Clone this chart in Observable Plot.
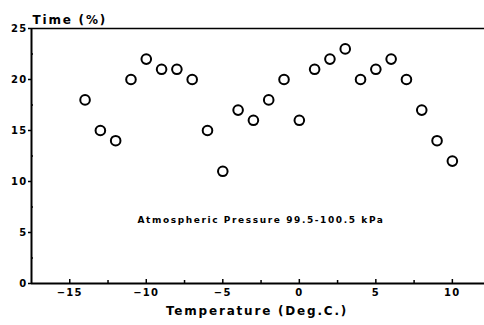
<!DOCTYPE html>
<html>
<head>
<meta charset="utf-8">
<script src="https://cdn.jsdelivr.net/npm/d3@7"></script>
<script src="https://cdn.jsdelivr.net/npm/@observablehq/plot@0.6"></script>
<style>
  html, body { margin: 0; padding: 0; background: #fff; }
  svg { display: block; }
</style>
</head>
<body>
<div id="chart"></div>
<script>
const temperature = [-14, -13, -12, -11, -10, -9, -8, -7, -6, -5, -4, -3, -2, -1, 0, 1, 2, 3, 4, 5, 6, 7, 8, 9, 10];
const timePct =     [ 18,  15,  14,  20,  22,  21,  21,  20,  15,  11,  17,  16,  18,  20, 16, 21, 22, 23, 20, 21, 22, 20, 17, 14, 12];
const xTicks = [-15, -10, -5, 0, 5, 10];
const xMinor = [-12.5, -7.5, -2.5, 2.5, 7.5];
const yTicks = [0, 5, 10, 15, 20, 25];
const yMinor = [2.5, 7.5, 12.5, 17.5, 22.5];
const xDomain = [-17.5, 12.1];
const yDomain = [0, 25];
const xTitle = "Temperature (Deg.C.)";
const yTitle = "Time (%)";
const note = "Atmospheric Pressure 99.5-100.5 kPa";

const data = temperature.map((t, i) => ({t, v: timePct[i]}));
const font = "'DejaVu Sans', sans-serif";

const chart = Plot.plot({
  width: 484,
  height: 325,
  marginLeft: 31,
  marginRight: 0,
  marginTop: 28,
  marginBottom: 42,
  style: {fontFamily: font, color: "#000", background: "#fff"},
  x: {domain: xDomain},
  y: {domain: yDomain},
  marks: [
    Plot.ruleY([yDomain[0]], {stroke: "#000", strokeWidth: 2}),
    Plot.ruleY([yDomain[1]], {stroke: "#000", strokeWidth: 1.5}),
    Plot.ruleX([xDomain[0]], {stroke: "#000", strokeWidth: 2}),
    Plot.axisX(xTicks, {tickSize: -4, tickPadding: 9, fontWeight: "bold", fontSize: 10, label: null, strokeWidth: 1.5}),
    Plot.axisX(xMinor, {tickSize: -3, tickFormat: () => "", label: null, strokeWidth: 1.5}),
    Plot.axisY(yTicks, {tickSize: 3, tickPadding: 1, fontWeight: "bold", fontSize: 10, label: null, strokeWidth: 1.5}),
    Plot.axisY(yMinor, {tickSize: -2, tickFormat: () => "", label: null, strokeWidth: 1.5}),
    Plot.dot(data, {x: "t", y: "v", r: 4.8, stroke: "#000", strokeWidth: 2, fill: "none"}),
    Plot.text([note], {frameAnchor: "bottom", dx: 3, dy: -61, fontWeight: "bold", fontSize: 9, fontFamily: font, className: "note"}),
    Plot.text([xTitle], {frameAnchor: "bottom", dy: 31, dx: -1, fontWeight: "bold", fontSize: 12, fontFamily: font, className: "title"}),
    Plot.text([yTitle], {frameAnchor: "top-left", textAnchor: "start", dx: 1, dy: -13, fontWeight: "bold", fontSize: 12, fontFamily: font, className: "title"})
  ]
});
document.getElementById("chart").append(chart);
// letter spacing for the blocky plotter-style lettering
d3.select(chart).selectAll("text").style("letter-spacing", "1.3px");
d3.select(chart).selectAll(".title text").style("letter-spacing", "1.8px");
d3.select(chart).selectAll(".note text").style("letter-spacing", "1.6px");
</script>
</body>
</html>
